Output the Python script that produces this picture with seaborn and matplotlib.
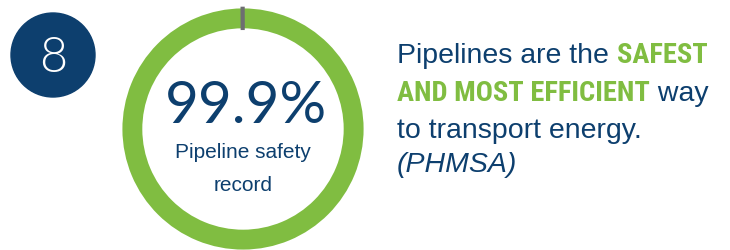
"""
plot.py

Pipeline safety record donut with callout text.
"""

import seaborn as sns
import matplotlib.pyplot as plt


SEGMENTS = ["Safe", "Incidents"]
SHARES = [99.9, 0.1]
HEADLINE = "99.9%"
SUBTITLE = ["Pipeline safety", "record"]
BADGE = "8"
CALLOUT = [
    [("Pipelines are the ", "plain"), ("SAFEST", "bold")],
    [("AND MOST EFFICIENT", "bold"), (" way", "plain")],
    [("to transport energy.", "plain")],
    [("(PHMSA)", "italic")],
]

NAVY = "#0d3f6e"
GREEN = "#80bd41"
GREY = "#6d6e71"
W, H = 730, 250


def fx(px):
    return px / W


def fy(py):
    return 1 - py / H


def draw_line(fig, x, y, parts, size):
    renderer = fig.canvas.get_renderer()
    for txt, style in parts:
        kw = dict(fontsize=size, color=NAVY, family="Liberation Sans")
        if style == "bold":
            kw.update(color=GREEN, family="Roboto Condensed", weight=700)
        elif style == "italic":
            kw.update(style="italic")
        t = fig.text(x, y, txt, va="baseline", ha="left", **kw)
        x += t.get_window_extent(renderer).width / fig.bbox.width


def main():
    sns.set_theme(style="white")
    fig = plt.figure(figsize=(W / 100, H / 100), dpi=100)

    # donut, centre (243, 129) px, outer radius 123 px
    ax = fig.add_axes([fx(120), fy(252), fx(246), 246 / H])
    wedges, _ = ax.pie(
        SHARES,
        colors=[GREEN, GREY],
        startangle=90,
        counterclock=False,
        radius=1,
        wedgeprops=dict(width=0.165, linewidth=0),
    )
    wedges[1].set_edgecolor(GREY)
    wedges[1].set_linewidth(2.5)
    ax.set_xlim(-1.02, 1.02)
    ax.set_ylim(-1.02, 1.02)
    ax.set_aspect("equal")
    ax.axis("off")

    fig.text(fx(246), fy(123), HEADLINE, ha="center", va="baseline",
             fontsize=42, color=NAVY, family="Lato", weight=400)
    fig.text(fx(243), fy(158), SUBTITLE[0], ha="center", va="baseline",
             fontsize=15, color=NAVY, family="Liberation Sans")
    fig.text(fx(243), fy(191), SUBTITLE[1], ha="center", va="baseline",
             fontsize=15, color=NAVY, family="Liberation Sans")

    # numbered badge
    bx = fig.add_axes([0, 0, 1, 1], zorder=-1)
    bx.set_xlim(0, W)
    bx.set_ylim(H, 0)
    bx.axis("off")
    bx.add_patch(plt.Circle((53, 55), 42, color=NAVY))
    fig.text(fx(53), fy(72), BADGE, ha="center", va="baseline",
             fontsize=35, color="white", family="Lato", weight=300)

    for i, parts in enumerate(CALLOUT):
        draw_line(fig, fx(397), fy([63, 101, 138, 172][i]), parts, 20.5)

    fig.savefig("out.png", dpi=100)


if __name__ == "__main__":
    main()
